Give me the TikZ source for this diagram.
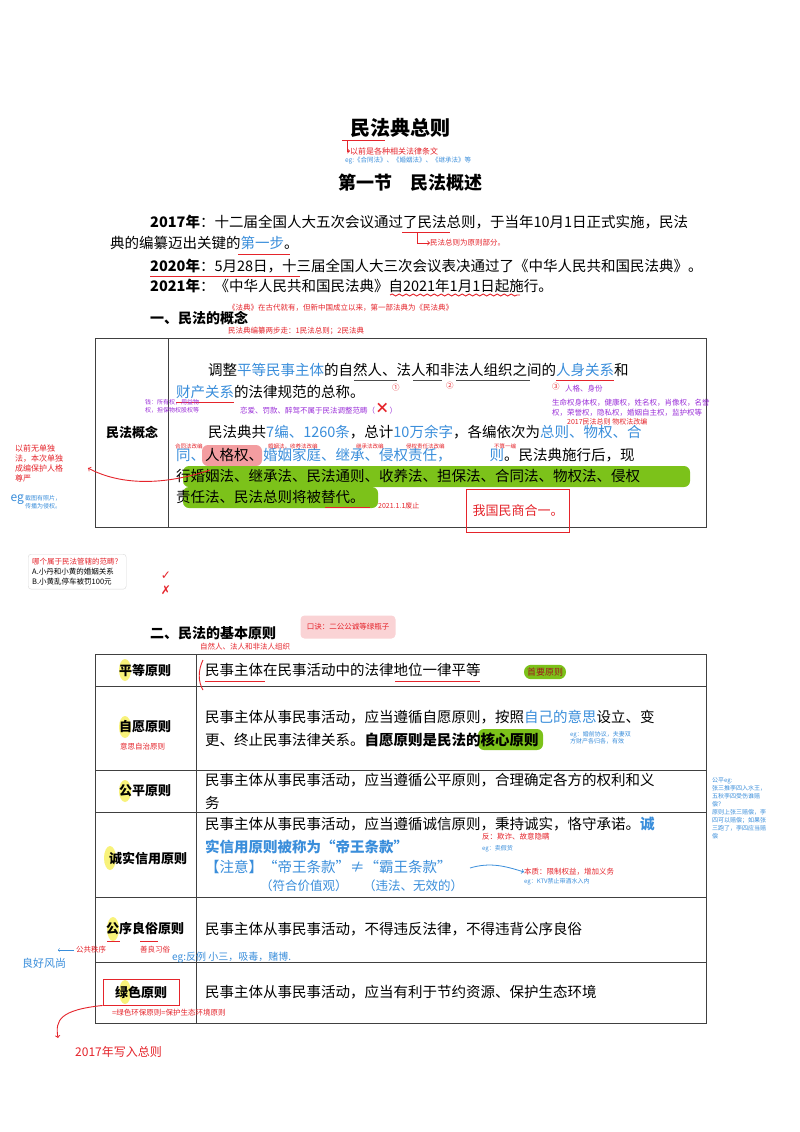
\documentclass[tikz,border=0pt]{standalone}
\usepackage{fontspec}
\setmainfont{Noto Sans CJK SC}
\newfontfamily\djv{DejaVu Sans}
\usetikzlibrary{decorations.pathmorphing}
\definecolor{bl}{HTML}{3A8EDB}
\definecolor{rd}{HTML}{E5242B}
\definecolor{pu}{HTML}{9B30D9}
\definecolor{gr}{HTML}{7CC21A}
\definecolor{yl}{HTML}{F8F27A}
\tikzset{
 body/.style={anchor=west,inner sep=0,font=\fontsize{14.5}{17}\selectfont},
 lab/.style={inner sep=0,font=\bfseries\fontsize{13}{15}\selectfont},
 note/.style={anchor=west,inner sep=0,text=rd,font=\fontsize{7.5}{9}\selectfont},
 bnote/.style={anchor=west,inner sep=0,text=bl,font=\fontsize{7}{8.5}\selectfont},
 tline/.style={draw=black!75,line width=0.9pt},
 redline/.style={rd,line width=0.9pt}
}
\begin{document}
\begin{tikzpicture}[x=1pt,y=-1pt]
\useasboundingbox[fill=white] (0,0) rectangle (800,1132);
% title
\node[inner sep=0,font=\bfseries\fontsize{20}{22}\selectfont] (title) at (400,128) {民法典总则};
\draw[redline] (342,140) -- (385,140);
\node[note,font=\fontsize{8}{9}\selectfont] (n1) at (350,151) {以前是各种相关法律条文};
\draw[redline,->] (347,141) -- (347,151) -- (n1.west);
\node[bnote,font=\fontsize{6.5}{8}\selectfont] (n2) at (345,161) {eg:《合同法》、《婚姻法》、《继承法》等};
\node[inner sep=0,font=\bfseries\fontsize{18}{20}\selectfont] (sec) at (410,183) {第一节\quad 民法概述};
% paragraph
\node[body] (p1) at (150,222) {\textbf{2017年}：十二届全国人大五次会议通过了民法总则，于当年10月1日正式实施，民法};
\node[body] (p2) at (110,243) {典的编纂迈出关键的\textcolor{bl}{第一步}。};
\draw[redline] (402,232) -- (450,232);
\draw[redline] (238,254) -- (290,254);
\node[note] (n3) at (430,243) {民法总则为原则部分。};
\draw[redline,->] (417,233) -- (417,243) -- (n3.west);
\node[body] (p3) at (150,266) {\textbf{2020年}：5月28日，十三届全国人大三次会议表决通过了《中华人民共和国民法典》。};
\draw[redline] (150,276) -- (300,276);
\node[body] (p4) at (150,286) {\textbf{2021年}：《中华人民共和国民法典》自2021年1月1日起施行。};
\draw[redline,decorate,decoration={snake,amplitude=1pt,segment length=7pt}] (390,295) -- (520,295);
\node[inner sep=0,anchor=west,font=\bfseries\fontsize{14}{16}\selectfont] (h1) at (150,318) {一、民法的概念};
\node[note] (n4) at (228,308) {《法典》在古代就有，但新中国成立以来，第一部法典为《民法典》};
\node[note] (n5) at (228,331) {民法典编纂两步走：1民法总则；2民法典};
% table 1
\draw[tline] (95,338) rectangle (706,527);
\draw[tline] (168,338) -- (168,527);
\node[lab] (l0) at (132,432) {民法概念};
\node[body] (t1) at (208,370) {调整\textcolor{bl}{平等民事主体}的自然人、法人和非法人组织之间的\textcolor{bl}{人身关系}和};
\node[body] (t2) at (176,392) {\textcolor{bl}{财产关系}的法律规范的总称。};
\draw[redline] (556,380) -- (614,380);
\draw[redline] (176,402) -- (234,402);
\draw[black!70,line width=0.7pt] (354,380)--(397,380) (413,380)--(442,380) (456,380)--(530,380);
\node[note,text=rd] at (392,388) {①};
\node[note,text=rd] at (446,386) {②};
\node[note,text=rd] at (552,387) {③};
\node[note,text=pu] (n6) at (240,409) {恋爱、罚款、醉驾不属于民法调整范畴（\textcolor{rd}{\textbf{\Large ×}}）};
\node[note,text=pu,align=left,font=\fontsize{6}{8}\selectfont] (n7) at (145,406) {钱：所有权，用益物\\权，担保物权股权等};
\node[note,text=pu] (n8) at (565,389) {人格、身份};
\node[note,text=pu,align=left,font=\fontsize{7.5}{10}\selectfont] (n9) at (552,408) {生命权身体权，健康权，姓名权，肖像权，名誉\\权，荣誉权，隐私权，婚姻自主权，监护权等};
\node[note,font=\fontsize{7}{8}\selectfont] (n10) at (567,422) {2017民法总则\ 物权法改编};
\node[body] (t3) at (208,432) {民法典共\textcolor{bl}{7编、1260条}，总计\textcolor{bl}{10万余字}，各编依次为\textcolor{bl}{总则、物权、合}};
\fill[rd!45,rounded corners=6pt] (202,445) rectangle (262,466);
\fill[gr,rounded corners=6pt] (183,466) rectangle (690,487);
\fill[gr,rounded corners=6pt] (183,487) rectangle (378,508);
\node[body] (t4) at (176,455) {\textcolor{bl}{同、}人格权、\textcolor{bl}{婚姻家庭、继承、侵权责任，}\hspace{38pt}\textcolor{bl}{则}。民法典施行后，现};
\node[body] (t5) at (176,476) {行婚姻法、继承法、民法通则、收养法、担保法、合同法、物权法、侵权};
\node[body] (t6) at (176,497) {责任法、民法总则将被替代。};
\draw[redline] (325,507) -- (370,507);
\node[note,font=\fontsize{5.5}{6}\selectfont] at (175,446) {合同法改编};
\node[note,font=\fontsize{5.5}{6}\selectfont] at (268,446) {婚姻法，收养法改编};
\node[note,font=\fontsize{5.5}{6}\selectfont] at (356,446) {继承法改编};
\node[note,font=\fontsize{5.5}{6}\selectfont] at (406,446) {侵权责任法改编};
\node[note,font=\fontsize{5.5}{6}\selectfont] at (494,446) {不算一编};
\node[note,font=\fontsize{7}{8}\selectfont] (n11) at (378,506) {2021.1.1废止};
\node[draw=rd,line width=0.9pt,inner sep=6pt,text=rd,font=\fontsize{13}{15}\selectfont,minimum height=43pt] (box1) at (518,511) {我国民商合一。};
% left note
\node[note,align=left,font=\fontsize{8}{10}\selectfont] (n12) at (15,463) {以前无单独\\法，本次单独\\成编保护人格\\尊严};
\draw[redline,->] (210,470) .. controls (150,490) and (110,480) .. (88,468);
\node[bnote,align=left,font=\fontsize{6}{7.5}\selectfont] (n13) at (25,502) {截图有照片，\\传播为侵权。};
\node[anchor=east,inner sep=1pt,text=bl,font=\fontsize{12}{12}\selectfont] at (25,500) {eg};
% quiz
\node[draw=black!15,rounded corners=3pt,fill=white,anchor=north west,align=left,inner sep=4pt,font=\fontsize{7.5}{10}\selectfont] (quiz) at (28,554) {\textcolor{rd}{哪个属于民法管辖的范畴？}\\A.小丹和小黄的婚姻关系\\B.小黄乱停车被罚100元};
\node[text=rd,inner sep=0,font=\djv\fontsize{12}{12}\selectfont] at (166,576) {✓};
\node[text=rd,inner sep=0,font=\djv\fontsize{12}{12}\selectfont] at (166,590) {✗};
% section 2
\node[inner sep=0,anchor=west,font=\bfseries\fontsize{14}{16}\selectfont] (h2) at (150,633) {二、民法的基本原则};
\node[fill=rd!20,rounded corners=4pt,minimum width=95pt,minimum height=23pt,text=rd,font=\fontsize{7.5}{9}\selectfont] (kj) at (348,627) {口诀：二公公诚等绿瓶子};
\node[note] (n14) at (200,647) {自然人、法人和非法人组织};
% table 2
\draw[tline] (95,654) rectangle (706,1023);
\draw[tline] (196,654) -- (196,1023);
\foreach \y in {686,770,812,897,962} \draw[tline] (95,\y) -- (706,\y);
\fill[yl] (125,670) ellipse (6pt and 11pt);
\fill[yl] (125,727) ellipse (6pt and 11pt);
\fill[yl] (125,791) ellipse (6pt and 11pt);
\fill[yl] (110,858) ellipse (6pt and 12pt);
\fill[yl] (113,929) ellipse (6pt and 12pt);
\fill[yl] (125,992) ellipse (6pt and 12pt);
\node[lab] (r1) at (145,670) {平等原则};
\node[lab] (r2) at (145,727) {自愿原则};
\node[note] at (120,747) {意思自治原则};
\node[lab] (r3) at (145,791) {公平原则};
\node[lab] (r4) at (148,858) {诚实信用原则};
\node[lab] (r5) at (145,929) {公序良俗原则};
\node[lab,draw=rd,line width=0.9pt,inner sep=5pt,minimum width=76pt,minimum height=26pt] (r6) at (141,992) {绿色原则};
\node[body] (c1) at (205,670) {民事主体在民事活动中的法律地位一律平等};
\draw[redline] (205,681) -- (265,681) (395,681) -- (480,681);
\draw[redline] (203,660) .. controls (198,670) and (198,682) .. (203,690);
\node[fill=gr,rounded corners=7pt,inner sep=3pt,text=rd!70!black,font=\fontsize{9}{10}\selectfont] (sy) at (545,672) {首要原则};
\node[body] (c2a) at (205,717) {民事主体从事民事活动，应当遵循自愿原则，按照\textcolor{bl}{自己的意思}设立、变};
\fill[gr,rounded corners=6pt] (478,729) rectangle (543,750);
\node[body] (c2b) at (205,740) {更、终止民事法律关系。\textbf{自愿原则是民法的核心原则}};
\node[bnote,align=left,font=\fontsize{6}{7.5}\selectfont] (n15) at (570,738) {eg：婚前协议，夫妻双\\方财产各归各，有效};
\node[body] (c3a) at (205,780) {民事主体从事民事活动，应当遵循公平原则，合理确定各方的权利和义};
\node[body] (c3b) at (205,803) {务};
\node[body] (c4a) at (205,824) {民事主体从事民事活动，应当遵循诚信原则，秉持诚实，恪守承诺。\textcolor{bl}{\textbf{诚}}};
\node[body] (c4b) at (205,847) {\textcolor{bl}{\textbf{实信用原则被称为“帝王条款”}}};
\node[body] (c4c) at (205,867) {\textcolor{bl}{【注意】“帝王条款”≠“霸王条款”}};
\node[body,font=\fontsize{12.5}{14}\selectfont] (c4d) at (260,886) {\textcolor{bl}{（符合价值观）\quad\ （违法、无效的）}};
\node[note] (n16) at (482,837) {反：欺诈、故意隐瞒};
\node[bnote,font=\fontsize{6}{7}\selectfont] (n17) at (482,849) {eg：卖假货};
\node[note] (n18) at (524,872) {本质：限制权益，增加义务};
\node[bnote,font=\fontsize{6}{7}\selectfont] (n19) at (524,882) {eg：KTV禁止带酒水入内};
\draw[bl,line width=0.8pt,->] (470,868) .. controls (490,862) and (505,866) .. (n18.west);
\node[bnote,align=left,font=\fontsize{6}{8}\selectfont] (n20) at (712,808) {公平eg:\\张三推李四入水王，\\五秋李四受伤谁赔\\偿？\\原则上张三赔偿，李\\四可以赔偿；如果张\\三跑了，李四应当赔\\偿};
\node[body] (c5) at (205,929) {民事主体从事民事活动，不得违反法律，不得违背公序良俗};
\draw[redline] (107,941) -- (120,941) (140,941) -- (158,941);
\node[note] (n21) at (76,950) {公共秩序};
\node[note] (n22) at (140,950) {善良习俗};
\draw[bl,->] (74,950) -- (58,950);
\node[bnote,font=\fontsize{11}{12}\selectfont] (n23) at (22,963) {良好风尚};
\node[bnote,font=\fontsize{10}{12}\selectfont] (n24) at (172,958) {eg:反例 小三，吸毒，赌博.};
\node[body] (c6) at (205,992) {民事主体从事民事活动，应当有利于节约资源、保护生态环境};
\node[note] (n25) at (112,1013) {=绿色环保原则=保护生态环境原则};
\node[note,font=\fontsize{12}{14}\selectfont] (n26) at (75,1052) {2017年写入总则};
\draw[redline,->] (r6.south west) .. controls (60,1010) and (55,1020) .. (58,1038);
\end{tikzpicture}
\end{document}
